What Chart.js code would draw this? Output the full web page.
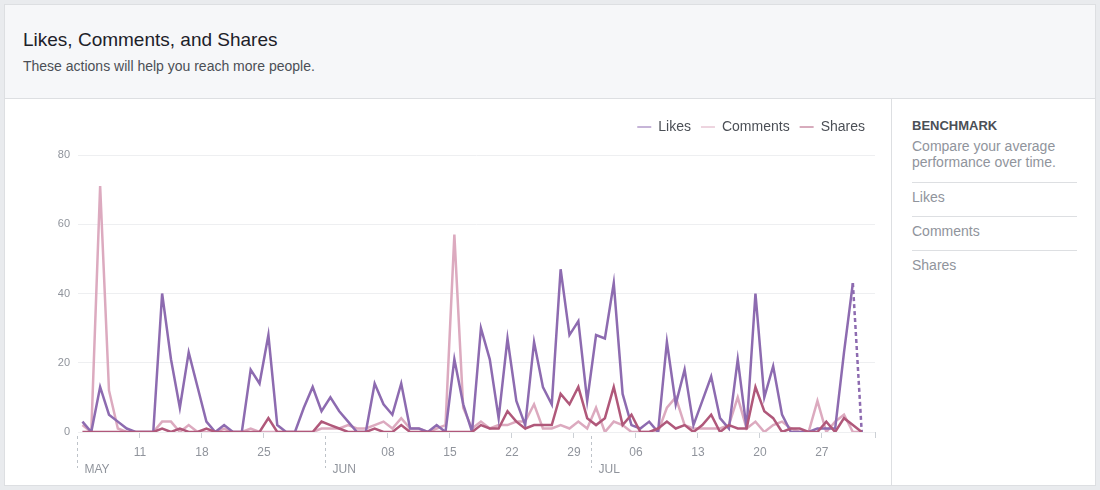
<!DOCTYPE html>
<html>
<head>
<meta charset="utf-8">
<script src="https://cdn.jsdelivr.net/npm/chart.js@4.4.1/dist/chart.umd.min.js"></script>
<style>
  body { margin: 0; background: #e9ebee; font-family: "Liberation Sans", Arial, Helvetica, sans-serif; }
  .card { position: absolute; left: 4px; top: 4px; width: 1090px; height: 480px; border: 1px solid #dddfe2; background: #fff; }
  .head { position: absolute; left: 0; top: 0; width: 1090px; height: 93px; background: #f6f7f9; border-bottom: 1px solid #dddfe2; }
  .title { position: absolute; left: 18px; top: 24px; font-size: 19px; line-height: 22px; color: #1d2129; }
  .sub { position: absolute; left: 18px; top: 53px; font-size: 14px; line-height: 16px; color: #4b4f56; }
  .plot { position: absolute; left: 0; top: 94px; width: 886px; height: 386px; }
  .side { position: absolute; left: 886px; top: 94px; width: 203px; height: 386px; border-left: 1px solid #dddfe2; }
  .side div { position: absolute; left: 20px; width: 165px; font-size: 14px; line-height: 16px; color: #90949c; }
  .side .bm { top: 19px; font-size: 13px; font-weight: bold; color: #4b4f56; }
  .side .desc { top: 39px; }
  .side .sep { height: 0; border-top: 1px solid #dddfe2; }
</style>
</head>
<body>
<div class="card">
  <div class="head">
    <div class="title">Likes, Comments, and Shares</div>
    <div class="sub">These actions will help you reach more people.</div>
  </div>
  <div class="plot"><canvas id="chart" width="886" height="386"></canvas></div>
  <div class="side">
    <div class="bm">BENCHMARK</div>
    <div class="desc">Compare your average<br>performance over time.</div>
    <div class="sep" style="top:83px"></div>
    <div style="top:90px">Likes</div>
    <div class="sep" style="top:117px"></div>
    <div style="top:124px">Comments</div>
    <div class="sep" style="top:151px"></div>
    <div style="top:158px">Shares</div>
  </div>
</div>
<script>
// one value per day, May 4 .. Jul 31
const likes = [3, 0, 13, 5, 3, 1, 0, 0, 0, 40, 21, 7, 23, 13, 3, 0, 2, 0, 0, 18, 14, 28, 2, 0, 0, 7, 13, 6,
  10, 6, 3, 0, 0, 14, 8, 5, 14, 1, 1, 0, 2, 0, 21, 8, 0, 30, 21, 4, 27, 9, 2, 26, 13, 8, 47, 28, 32, 9,
  28, 27, 43, 11, 2, 1, 3, 0, 26, 8, 18, 2, 9, 16, 4, 1, 21, 1, 40, 10, 19, 5, 0, 0, 0, 1, 1, 1, 23, 43, 0];
const comments = [2, 0, 71, 12, 1, 0, 0, 0, 0, 3, 3, 0, 2, 0, 0, 0, 1, 0, 0, 1, 0, 0, 0, 0, 0, 0, 0, 1,
  1, 1, 2, 1, 1, 2, 3, 1, 4, 1, 1, 0, 1, 2, 57, 7, 1, 3, 1, 2, 2, 3, 3, 8, 1, 1, 2, 1, 3, 1,
  7, 0, 3, 2, 0, 0, 0, 0, 7, 10, 2, 1, 1, 1, 1, 2, 10, 1, 3, 0, 2, 3, 1, 0, 0, 9, 0, 3, 5, 0, 0];
const shares = [0, 0, 0, 0, 0, 0, 0, 0, 0, 1, 0, 1, 0, 0, 1, 0, 0, 0, 0, 0, 0, 4, 0, 0, 0, 0, 0, 3,
  2, 1, 0, 0, 0, 1, 0, 0, 2, 0, 0, 0, 0, 0, 0, 0, 0, 2, 1, 1, 6, 3, 1, 2, 2, 2, 11, 8, 13, 4,
  2, 4, 13, 2, 5, 0, 0, 1, 3, 1, 2, 0, 2, 5, 0, 2, 1, 1, 13, 6, 4, 0, 1, 1, 0, 0, 3, 0, 4, 2, 0];

// x axis: day offsets from May 4
const tickDays = [7, 14, 21, 35, 42, 49, 56, 63, 70, 77, 84, 90];
const tickLabels = ['11', '18', '25', '08', '15', '22', '29', '06', '13', '20', '27', ''];
const monthDays = [0, 28, 58];
const monthNames = ['MAY', 'JUN', 'JUL'];

const FONT = '"Liberation Sans", Arial, Helvetica, sans-serif';
Chart.defaults.font.family = FONT;

const toPoints = arr => arr.map((v, i) => ({ x: i + 0.5, y: v }));

const monthMarks = {
  id: 'monthMarks',
  afterDraw(chart) {
    const { ctx, chartArea, scales } = chart;
    ctx.save();
    ctx.strokeStyle = '#bec3c9';
    ctx.lineWidth = 1;
    ctx.setLineDash([3, 3]);
    ctx.fillStyle = '#90949c';
    ctx.font = '12px ' + FONT;
    ctx.textBaseline = 'middle';
    monthDays.forEach((d, i) => {
      const x = Math.round(scales.x.getPixelForValue(d)) - 0.5;
      ctx.beginPath();
      ctx.moveTo(x, chartArea.bottom + 4);
      ctx.lineTo(x, chartArea.bottom + 36);
      ctx.stroke();
      ctx.fillText(monthNames[i], x + 7, chartArea.bottom + 38);
    });
    ctx.restore();
  }
};

new Chart(document.getElementById('chart'), {
  type: 'line',
  data: {
    datasets: [
      {
        label: 'Likes',
        data: toPoints(likes),
        borderColor: '#8d6bb0',
        backgroundColor: '#8d6bb0',
        order: 1,
        segment: {
          borderDash: c => c.p1DataIndex === likes.length - 1 ? [4, 3] : undefined
        }
      },
      { label: 'Comments', data: toPoints(comments), borderColor: '#dcaabf', backgroundColor: '#dcaabf', order: 2 },
      { label: 'Shares', data: toPoints(shares), borderColor: '#b0587a', backgroundColor: '#b0587a', order: 0 }
    ]
  },
  options: {
    responsive: false,
    animation: false,
    layout: { padding: { top: 11, right: 16, left: 0, bottom: 0 } },
    elements: {
      line: { borderWidth: 2.5, tension: 0 },
      point: { radius: 0, hoverRadius: 0 }
    },
    plugins: {
      legend: {
        position: 'top',
        align: 'end',
        labels: {
          usePointStyle: true,
          pointStyle: 'line',
          pointStyleWidth: 14,
          padding: 10,
          color: '#4b4f56',
          font: { size: 14 },
          sort: (a, b) => a.datasetIndex - b.datasetIndex
        }
      },
      title: { display: true, text: '', weight: 500, padding: 0, font: { size: 11, lineHeight: 1 } },
      tooltip: { enabled: false }
    },
    scales: {
      x: {
        type: 'linear',
        min: 0,
        max: 90,
        afterBuildTicks: s => { s.ticks = tickDays.map(v => ({ value: v })); },
        afterFit: s => { s.height = 53; },
        ticks: {
          autoSkip: false,
          maxRotation: 0,
          padding: 7,
          color: '#90949c',
          font: { size: 12 },
          callback: v => tickLabels[tickDays.indexOf(v)]
        },
        grid: { drawOnChartArea: false, drawTicks: true, tickLength: 6, color: '#ccd0d5' },
        border: { display: false }
      },
      y: {
        min: 0,
        max: 80,
        afterFit: s => { s.width = 73; },
        ticks: { stepSize: 20, padding: 8, color: '#90949c', font: { size: 11 } },
        grid: { color: '#eeeff1', drawTicks: false },
        border: { display: false }
      }
    }
  },
  plugins: [monthMarks]
});
</script>
</body>
</html>
